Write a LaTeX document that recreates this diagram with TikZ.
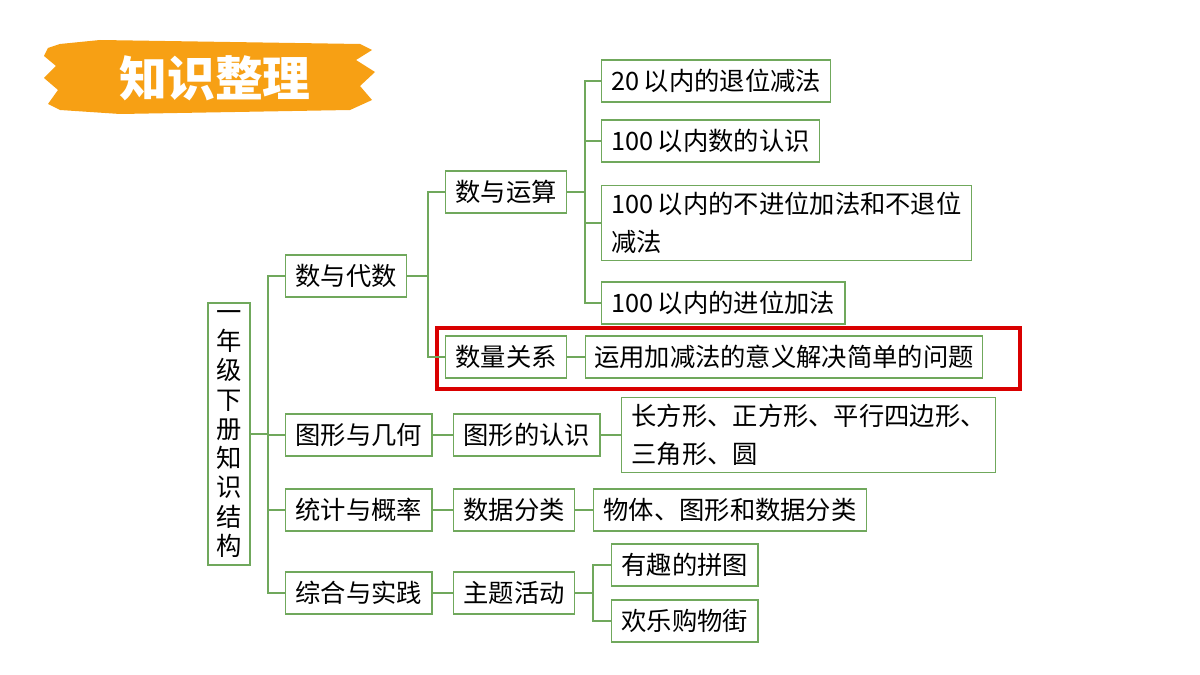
\documentclass[tikz,border=0pt]{standalone}
\usepackage{fontspec}
\setmainfont{Noto Sans CJK SC}
\usetikzlibrary{calc}
\definecolor{leaf}{RGB}{112,168,92}
\definecolor{brush}{RGB}{247,160,20}
\tikzset{
	box/.style={draw=leaf, line width=0.9pt, inner xsep=7pt, minimum height=42*0.025cm, font=\fontsize{18}{27}\selectfont, anchor=west},
	wire/.style={draw=leaf, line width=0.9pt}
}
\begin{document}
\begin{tikzpicture}[x=0.025cm, y=-0.025cm]
		\useasboundingbox (0,0) rectangle (1200,675);
		% banner
		\fill[brush] (48,48) -- (60,44) -- (100,40) -- (360,44) -- (372,50) -- (356,60) -- (375,72) -- (360,86) -- (372,100) -- (350,110) -- (120,114) -- (60,110) -- (48,104) -- (58,90) -- (44,78) -- (56,66) -- (44,56) -- cycle;
		\node[text=white, font=\fontsize{34}{34}\selectfont\bfseries] (title) at (215,78) {知识整理};

		\node[draw=leaf, line width=0.9pt, minimum width=42*0.025cm, minimum height=262*0.025cm, align=center, font=\fontsize{18}{20.8}\selectfont] (root) at (229,434) {一\\年\\级\\下\\册\\知\\识\\结\\构};

		\node[box] (sd) at (285,276) {数与代数};
		\node[box] (tx) at (285,435) {图形与几何};
		\node[box] (tj) at (285,510) {统计与概率};
		\node[box] (zh) at (285,593) {综合与实践};

		\node[box] (ys) at (445,192) {数与运算};
		\node[box] (gx) at (445,357) {数量关系};
		\node[box] (rs) at (453,435) {图形的认识};
		\node[box] (fl) at (453,510) {数据分类};
		\node[box] (hd) at (453,593) {主题活动};

		\node[box] (a1) at (601,81) {20\,以内的退位减法};
		\node[box] (a2) at (601,141) {100\,以内数的认识};
		\node[box, align=left, inner ysep=5pt] (a3) at (601,223) {100\,以内的不进位加法和不退位\\减法};
		\node[box] (a4) at (601,303) {100\,以内的进位加法};
		\node[box, inner xsep=6pt] (b1) at (585,357) {运用加减法的意义解决简单的问题};
		\node[box, align=left, inner ysep=5pt] (c1) at (621,435) {长方形、正方形、平行四边形、\\三角形、圆};
		\node[box] (d1) at (593,510) {物体、图形和数据分类};
		\node[box] (e1) at (611,565) {有趣的拼图};
		\node[box] (e2) at (611,621) {欢乐购物街};

		\draw[red!85!black, line width=2.5pt] (437,328) rectangle (1020,389);

		% tree
		\draw[wire] (root.east) -- (268,434);
		\draw[wire] (sd.west) -| (268,593) -- (zh.west);
		\draw[wire] (268,435) -- (tx.west);
		\draw[wire] (268,510) -- (tj.west);
		\draw[wire] (sd.east) -- (428,276);
		\draw[wire] (ys.west) -| (428,357) -- (gx.west);
		\draw[wire] (ys.east) -- (585,192);
		\draw[wire] (a1.west) -| (585,303) -- (a4.west);
		\draw[wire] (585,141) -- (a2.west);
		\draw[wire] (585,223) -- (a3.west);
		\draw[wire] (gx.east) -- (b1.west);
		\draw[wire] (tx.east) -- (rs.west);
		\draw[wire] (rs.east) -- (c1.west);
		\draw[wire] (tj.east) -- (fl.west);
		\draw[wire] (fl.east) -- (d1.west);
		\draw[wire] (zh.east) -- (hd.west);
		\draw[wire] (hd.east) -- (593,593);
		\draw[wire] (e1.west) -| (593,621) -- (e2.west);
\end{tikzpicture}
\end{document}
